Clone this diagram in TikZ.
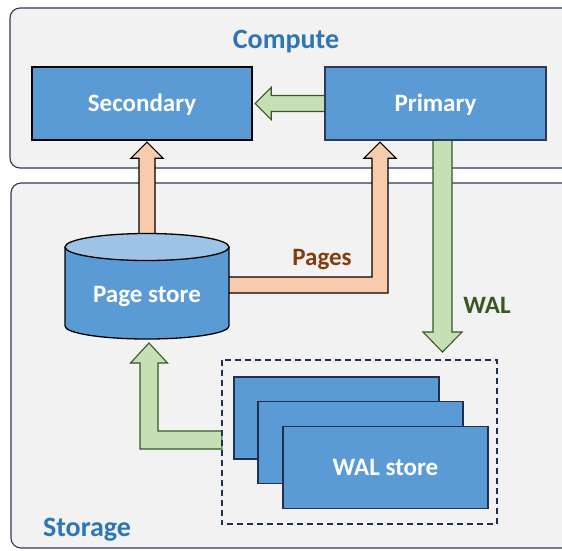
\documentclass[tikz,border=0pt]{standalone}
\usepackage{fontspec}
\setmainfont{Carlito}
\usetikzlibrary{calc}

\definecolor{panelfill}{HTML}{F2F2F2}
\definecolor{panelline}{HTML}{2A3A58}
\definecolor{titleblue}{HTML}{2E75B6}
\definecolor{boxblue}{HTML}{5B9BD5}
\definecolor{topblue}{HTML}{9DC3E6}
\definecolor{navy}{HTML}{1F3050}
\definecolor{peach}{HTML}{F8CBAD}
\definecolor{lightgreen}{HTML}{C5E0B4}
\definecolor{darkgreen}{HTML}{385723}
\definecolor{brown}{HTML}{843C0C}

\tikzset{
  panel/.style={draw=panelline, line width=1.1pt, fill=panelfill, rounded corners=10pt},
  title/.style={anchor=base, font=\fontsize{28}{30}\selectfont\bfseries, text=titleblue},
  blockbox/.style={fill=boxblue, minimum width=220pt, minimum height=73pt,
    text height=16pt, text depth=0pt,
    font=\fontsize{25}{27}\selectfont\bfseries, text=white},
  walbox/.style={fill=boxblue, draw=navy, line width=1.3pt, minimum width=205pt,
    minimum height=82pt, text height=16pt, text depth=0pt,
    font=\fontsize{25}{27}\selectfont\bfseries, text=white},
  garrow/.style={fill=lightgreen, draw=darkgreen, line width=1.1pt, line join=miter},
  parrow/.style={fill=peach, draw=black, line width=1.1pt, line join=miter},
  flowlabel/.style={anchor=base, font=\fontsize{25}{27}\selectfont\bfseries},
  dashframe/.style={draw=navy, dash pattern=on 6pt off 4pt, line width=1.5pt},
}

\begin{document}
\begin{tikzpicture}[x=1pt, y=-1pt]
  \clip (0,0) rectangle (562,550);

  % panels
  \draw[panel] (10,8) rectangle (590,168);
  \draw[panel] (11,183) rectangle (590,548);
  \node[title] (compute) at (286,48) {Compute};
  \node[title] (storage) at (87,536) {Storage};

  % node placement (drawn after the arrows)
  \coordinate (secpos) at (142,103.5);
  \coordinate (primpos) at (435.5,103.5);
  \coordinate (pstop) at (147,250);
  \coordinate (pselbow) at (380,285);
  \coordinate (walin) at (442.5,352);
  \coordinate (psbottom) at (149,343);

  % WAL group area
  \node[minimum width=275pt, minimum height=164pt] (walgroup) at (359.5,442) {};

  % invisible anchors for the compute boxes
  \path (secpos) node[minimum width=220pt, minimum height=73pt] (sec) {};
  \path (primpos) node[minimum width=221pt, minimum height=73pt] (prim) {};

  % Primary -> Secondary
  \draw[garrow] ($(sec.east)+(3,0)$) -- ++(16,-16) -- ++(0,8)
     -- ($(prim.west)+(0,-8)$) -- ++(0,16) -- ($(sec.east)+(19,8)$) -- ++(0,8) -- cycle;

  % Page store -> Secondary
  \draw[parrow] ($(sec.south)+(5,2)$) -- ++(16,16) -- ++(-8,0)
     -- ($(pstop)+(8,0)$) -- ++(-16,0) -- ($(sec.south)+(-3,18)$) -- ++(-8,0) -- cycle;

  % Page store -> Primary
  \draw[parrow] ($(prim.south)+(-55.5,2)$) -- ++(16,16) -- ++(-8,0)
     -- ($(pselbow)+(8,8)$) -- ($(pstop)+(40,43)$) -- ++(0,-16)
     -- ($(pselbow)+(-8,-8)$) -- ($(prim.south)+(-63.5,18)$) -- ++(-8,0) -- cycle;

  % Primary -> WAL store
  \draw[garrow] ($(prim.south)+(-2.5,-4)$) -- ($(walin)+(-9.5,-20)$) -- ++(-10,0)
     -- (walin) -- ++(19.5,-20) -- ++(-10,0) -- ($(prim.south)+(16.5,-4)$) -- cycle;

  % WAL store -> Page store
  \draw[garrow] (psbottom) -- ++(18.5,20) -- ++(-9.5,0) -- ++(0,68)
     -- ($(walgroup.west)+(0,-11)$) -- ($(walgroup.west)+(0,7)$)
     -- ($(psbottom)+(-9,106)$) -- ++(0,-86) -- ++(-9.5,0) -- cycle;

  % dashed frame round the WAL stores
  \draw[dashframe] (walgroup.north west) rectangle (walgroup.south east);

  % compute boxes
  \node[blockbox, draw=black, line width=1.4pt] (secondary) at (secpos) {Secondary};
  \node[blockbox, draw=panelline, line width=1.2pt, minimum width=221pt] (primary) at (primpos) {Primary};

  % page store cylinder
  \fill[boxblue] (65,247) rectangle (229,326);
  \fill[boxblue] (147,326) ellipse [x radius=82, y radius=13];
  \draw[line width=1.3pt] (65,247) -- (65,326)
     arc[start angle=180, end angle=0, x radius=82, y radius=13] -- (229,247);
  \draw[line width=1.3pt, fill=topblue] (147,247) ellipse [x radius=82, y radius=13.5];
  \node[flowlabel, text=white] (pagestore) at (147,302) {Page store};

  % stacked WAL stores
  \node[walbox] (wal1) at (336.5,418) {};
  \node[walbox] (wal2) at (360.5,442.5) {};
  \node[walbox] (wal3) at (385.5,467.5) {WAL store};

  % flow labels
  \node[flowlabel, text=brown] (pages) at (322,265) {Pages};
  \node[flowlabel, text=darkgreen] (wal) at (487,313) {WAL};
\end{tikzpicture}
\end{document}
